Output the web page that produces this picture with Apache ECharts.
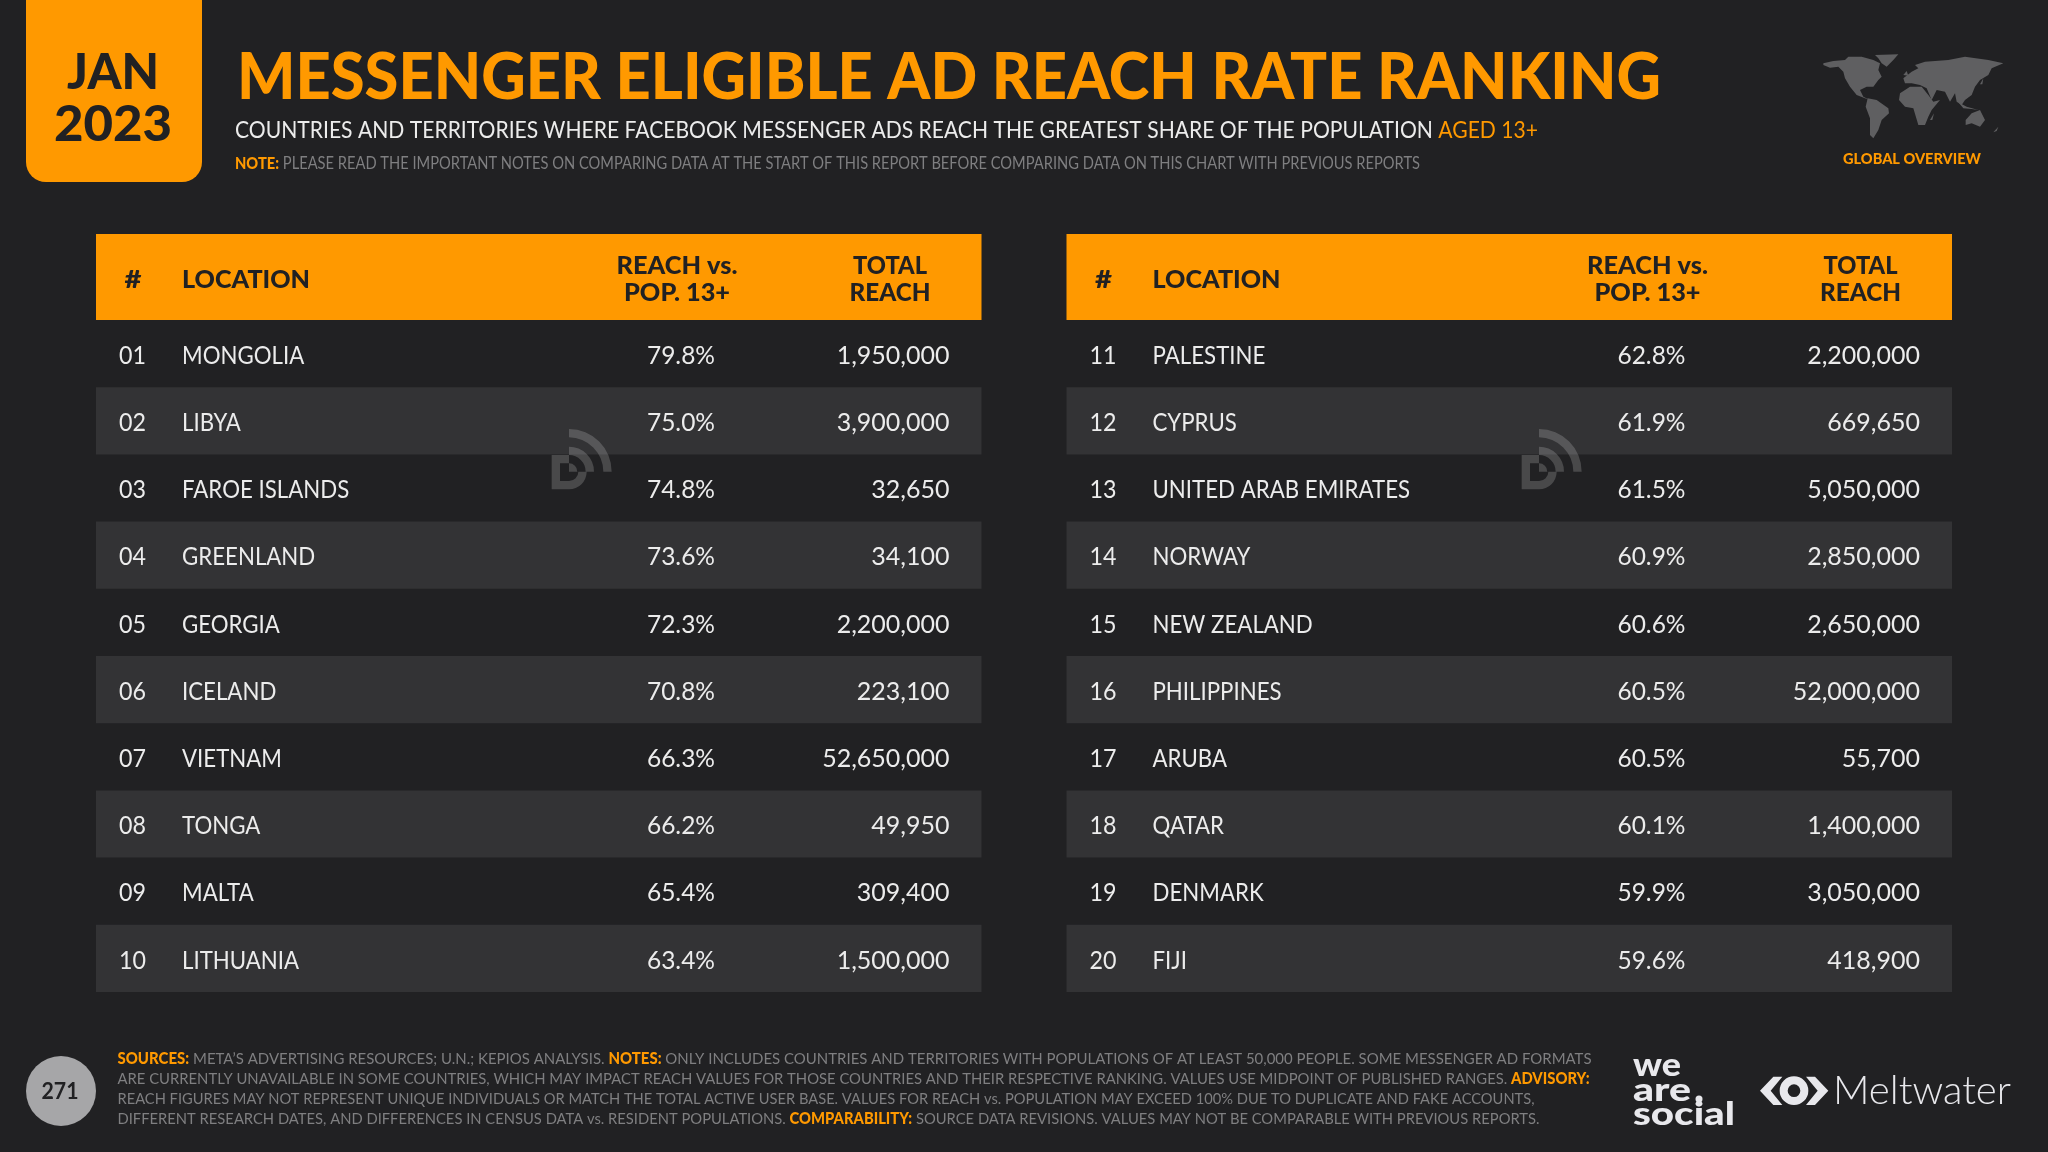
<!DOCTYPE html>
<html>
<head>
<meta charset="utf-8">
<title>Messenger eligible ad reach rate ranking</title>
<style>
html, body { margin: 0; padding: 0; background: #212123; }
#main { width: 2048px; height: 1152px; }
</style>
<script src="https://cdn.jsdelivr.net/npm/echarts@6/dist/echarts.min.js"></script>
</head>
<body>
<div id="main"></div>
<script>
var ranks = ['01', '02', '03', '04', '05', '06', '07', '08', '09', '10',
    '11', '12', '13', '14', '15', '16', '17', '18', '19', '20'];
var locations = ['MONGOLIA', 'LIBYA', 'FAROE ISLANDS', 'GREENLAND', 'GEORGIA', 'ICELAND', 'VIETNAM', 'TONGA', 'MALTA', 'LITHUANIA',
    'PALESTINE', 'CYPRUS', 'UNITED ARAB EMIRATES', 'NORWAY', 'NEW ZEALAND', 'PHILIPPINES', 'ARUBA', 'QATAR', 'DENMARK', 'FIJI'];
var reachRates = [79.8, 75.0, 74.8, 73.6, 72.3, 70.8, 66.3, 66.2, 65.4, 63.4,
    62.8, 61.9, 61.5, 60.9, 60.6, 60.5, 60.5, 60.1, 59.9, 59.6];
var totalReach = [1950000, 3900000, 32650, 34100, 2200000, 223100, 52650000, 49950, 309400, 1500000,
    2200000, 669650, 5050000, 2850000, 2650000, 52000000, 55700, 1400000, 3050000, 418900];

var ORANGE = '#ff9900', DARK = '#212123', BAND = '#333335', WHITE = '#ececec', GREY = '#7f7f81', LOGO = '#e8e8ec';
var FONT = 'Lato, sans-serif';

var ctx = document.createElement('canvas').getContext('2d');
function measure(text, font) {
    ctx.font = font;
    return ctx.measureText(text).width;
}

// single text squeezed to the width it has in the reference
function label(text, x, y, size, weight, fill, width, align) {
    var font = weight + ' ' + size + 'px ' + FONT;
    return {
        type: 'text', x: x, y: y, z: 5,
        scaleX: width ? width / measure(text, font) : 1,
        style: { text: text, font: font, fill: fill, align: align || 'left', verticalAlign: 'middle' }
    };
}

// several colours on one line: parts are [text, 'o' | 'g']
function richLine(parts, x, y, size, width, grey) {
    var fonts = { o: '900 ' + size + 'px ' + FONT, g: '400 ' + size + 'px ' + FONT };
    var natural = 0, text = '';
    parts.forEach(function (p) {
        natural += measure(p[0], fonts[p[1]]);
        text += '{' + p[1] + '|' + p[0] + '}';
    });
    return {
        type: 'text', x: x, y: y, z: 5, scaleX: width / natural,
        style: {
            text: text, align: 'left', verticalAlign: 'middle',
            rich: {
                o: { font: fonts.o, fill: ORANGE },
                g: { font: fonts.g, fill: grey }
            }
        }
    };
}

var subtitleParts = [['COUNTRIES AND TERRITORIES WHERE FACEBOOK MESSENGER ADS REACH THE GREATEST SHARE OF THE POPULATION ', 'g'], ['AGED 13+', 'o2']];
var footerLines = [
    [['SOURCES:', 'o'], [' META\u2019S ADVERTISING RESOURCES; U.N.; KEPIOS ANALYSIS. ', 'g'], ['NOTES:', 'o'], [' ONLY INCLUDES COUNTRIES AND TERRITORIES WITH POPULATIONS OF AT LEAST 50,000 PEOPLE. SOME MESSENGER AD FORMATS', 'g']],
    [['ARE CURRENTLY UNAVAILABLE IN SOME COUNTRIES, WHICH MAY IMPACT REACH VALUES FOR THOSE COUNTRIES AND THEIR RESPECTIVE RANKING. VALUES USE MIDPOINT OF PUBLISHED RANGES. ', 'g'], ['ADVISORY:', 'o']],
    [['REACH FIGURES MAY NOT REPRESENT UNIQUE INDIVIDUALS OR MATCH THE TOTAL ACTIVE USER BASE. VALUES FOR REACH vs. POPULATION MAY EXCEED 100% DUE TO DUPLICATE AND FAKE ACCOUNTS,', 'g']],
    [['DIFFERENT RESEARCH DATES, AND DIFFERENCES IN CENSUS DATA vs. RESIDENT POPULATIONS. ', 'g'], ['COMPARABILITY:', 'o'], [' SOURCE DATA REVISIONS. VALUES MAY NOT BE COMPARABLE WITH PREVIOUS REPORTS.', 'g']]
];
var footerY = [1059, 1079, 1099, 1119];
var footerW = [1474, 1472, 1417, 1422];

// rough world outline for the little map, top right
var mapShapes = [
    [[25,55],[55,48],[90,45],[100,35],[140,35],[175,45],[195,55],[190,75],[200,95],[190,105],[175,125],[155,125],[135,135],[145,155],[165,165],[150,160],[125,150],[105,125],[90,100],[85,80],[70,65],[45,68],[25,60]],
    [[180,30],[250,28],[235,45],[215,65],[200,55],[190,40]],
    [[158,160],[185,165],[220,190],[222,205],[200,225],[190,255],[175,280],[165,270],[165,220],[152,185]],
    [[255,145],[285,125],[320,125],[340,150],[355,170],[375,165],[350,195],[340,215],[330,240],[310,240],[295,190],[270,185],[252,165]],
    [[270,115],[265,100],[290,80],[310,70],[300,60],[330,50],[400,45],[450,35],[520,45],[565,55],[530,70],[520,90],[495,105],[480,125],[470,150],[450,165],[440,180],[425,170],[420,145],[405,170],[390,140],[365,135],[350,165],[335,130],[315,120],[290,115]],
    [[452,225],[470,205],[495,195],[510,225],[495,245],[470,235],[452,240]],
    [[430,172],[455,185],[490,195],[470,192],[445,190]],
    [[345,225],[357,205],[352,225]],
    [[535,262],[550,245],[545,258]],
    [[265,90],[275,78],[280,92]],
    [[495,118],[505,100],[502,118]]
];

// the little signal mark behind the tables
function watermark(x) {
    var fill = 'rgba(255,255,255,0.18)';
    function arc(r, r0, from, to) {
        return { type: 'sector', z: 6, shape: { cx: 207, cy: 215, r: r, r0: r0, startAngle: from, endAngle: to }, style: { fill: fill } };
    }
    return {
        type: 'group', x: x, y: 400, scaleX: 1 / 3, scaleY: 1 / 3, z: 6,
        children: [
            arc(128, 103, -Math.PI / 2, 0),
            arc(75, 50, -Math.PI / 2, 0),
            arc(25, 0, -Math.PI / 2, 0),
            arc(53, 28, 0, Math.PI / 2),
            { type: 'polygon', z: 6, shape: { points: [[155,165],[207,165],[207,190],[180,190],[180,243],[207,243],[207,268],[155,268]] }, style: { fill: fill } }
        ]
    };
}

var tableLeft = [96, 1066.5];
var tableWidth = 885.5;

var elements = [
    // date tab
    { type: 'rect', z: 4, shape: { x: 26, y: -30, width: 176, height: 212, r: 20 }, style: { fill: ORANGE } },
    label('JAN', 113, 72.5, 50, 900, DARK, 92, 'center'),
    label('2023', 113, 124.5, 50, 900, DARK, 118, 'center'),
    label('MESSENGER ELIGIBLE AD REACH RATE RANKING', 237, 78, 64, 900, ORANGE, 1424),
    {
        type: 'text', x: 235, y: 130, z: 5,
        scaleX: 1303 / (measure(subtitleParts[0][0], '400 24px ' + FONT) + measure(subtitleParts[1][0], '400 24px ' + FONT)),
        style: {
            text: '{w|' + subtitleParts[0][0] + '}{o|' + subtitleParts[1][0] + '}', align: 'left', verticalAlign: 'middle',
            rich: { w: { font: '400 24px ' + FONT, fill: WHITE }, o: { font: '400 24px ' + FONT, fill: ORANGE } }
        }
    },
    richLine([['NOTE:', 'o'], [' PLEASE READ THE IMPORTANT NOTES ON COMPARING DATA AT THE START OF THIS REPORT BEFORE COMPARING DATA ON THIS CHART WITH PREVIOUS REPORTS', 'g']], 235, 164, 17, 1185, GREY),
    label('GLOBAL OVERVIEW', 1912, 159, 15, 900, ORANGE, 138, 'center'),
    {
        type: 'group', x: 1815, y: 45, scaleX: 1 / 3, scaleY: 1 / 3, z: 5,
        children: mapShapes.map(function (pts) {
            return { type: 'polygon', z: 5, shape: { points: pts }, style: { fill: '#5f5f61' } };
        })
    },
    // page number
    { type: 'circle', z: 4, shape: { cx: 61, cy: 1091, r: 35 }, style: { fill: '#a6a6a8' } },
    label('271', 60, 1092, 23, 700, DARK, 37, 'center'),
    // logos
    label('we', 1633, 1065, 33, 900, LOGO, 48),
    label('are', 1633, 1090, 33, 900, LOGO, 58),
    { type: 'circle', z: 5, shape: { cx: 1699, cy: 1099, r: 3.5 }, style: { fill: LOGO } },
    label('social', 1633, 1114, 33, 900, LOGO, 102),
    {
        type: 'group', x: 1625, y: 1045, scaleX: 1 / 3, scaleY: 1 / 3, z: 5,
        children: [
            { type: 'polygon', z: 5, shape: { points: [[445,95],[472,95],[437,137],[472,180],[445,180],[405,137]] }, style: { fill: LOGO } },
            { type: 'polygon', z: 5, shape: { points: [[570,95],[543,95],[578,137],[543,180],[570,180],[610,137]] }, style: { fill: LOGO } },
            { type: 'ring', z: 5, shape: { cx: 507, cy: 137, r: 43, r0: 19 }, style: { fill: LOGO } }
        ]
    },
    label('Meltwater', 1833, 1091, 39, 300, LOGO, 178)
];

footerLines.forEach(function (parts, i) {
    elements.push(richLine(parts, 117.5, footerY[i], 16, footerW[i], GREY));
});

tableLeft.forEach(function (left) {
    elements.push({ type: 'rect', z: 3, shape: { x: left, y: 234, width: tableWidth, height: 86 }, style: { fill: ORANGE } });
    elements.push(label('#', left + 37, 280, 24, 900, DARK, 17, 'center'));
    elements.push(label('LOCATION', left + 86, 280, 24, 900, DARK, 128));
    elements.push(label('REACH vs.', left + 581, 266.5, 24, 900, DARK, 121, 'center'));
    elements.push(label('POP. 13+', left + 581, 293, 24, 900, DARK, 106, 'center'));
    elements.push(label('TOTAL', left + 794, 266.5, 24, 900, DARK, 74, 'center'));
    elements.push(label('REACH', left + 794, 293, 24, 900, DARK, 81, 'center'));
});
elements.push(watermark(500));
elements.push(watermark(1470));

function tableSeries(index, from, to) {
    return {
        type: 'custom',
        xAxisIndex: index,
        yAxisIndex: index,
        silent: true,
        data: locations.slice(from, to).map(function (name, i) { return [0, i]; }),
        renderItem: function (params, api) {
            var i = params.dataIndex;
            var k = from + i;
            var rowH = api.size([0, 1])[1];
            var p = api.coord([0, i]);
            var cy = p[1];
            var font = '400 25px ' + FONT;
            function cell(text, x, align, squeeze) {
                return {
                    type: 'text',
                    x: api.coord([x, i])[0],
                    y: cy + 2.2,
                    scaleX: squeeze,
                    style: { text: text, font: font, fill: WHITE, align: align, verticalAlign: 'middle' }
                };
            }
            var children = [];
            if (i % 2 === 1) {
                children.push({
                    type: 'rect',
                    shape: { x: p[0], y: cy - rowH / 2, width: api.size([tableWidth, 0])[0], height: rowH },
                    style: { fill: BAND }
                });
            }
            children.push(cell(ranks[k], 36.5, 'center', 0.93));
            children.push(cell(locations[k], 86, 'left', 0.89));
            children.push(cell(reachRates[k].toFixed(1) + '%', 619, 'right', 0.98));
            children.push(cell(totalReach[k].toLocaleString('en-US'), 853.5, 'right', 1));
            return { type: 'group', children: children };
        }
    };
}

var chart = echarts.init(document.getElementById('main'));
chart.setOption({
    backgroundColor: DARK,
    animation: false,
    grid: [
        { left: tableLeft[0], top: 320, width: tableWidth, height: 672 },
        { left: tableLeft[1], top: 320, width: tableWidth, height: 672 }
    ],
    xAxis: [
        { type: 'value', gridIndex: 0, min: 0, max: tableWidth, show: false },
        { type: 'value', gridIndex: 1, min: 0, max: tableWidth, show: false }
    ],
    yAxis: [
        { type: 'category', gridIndex: 0, inverse: true, show: false, data: locations.slice(0, 10) },
        { type: 'category', gridIndex: 1, inverse: true, show: false, data: locations.slice(10, 20) }
    ],
    graphic: { elements: elements },
    series: [tableSeries(0, 0, 10), tableSeries(1, 10, 20)]
});
</script>
</body>
</html>
